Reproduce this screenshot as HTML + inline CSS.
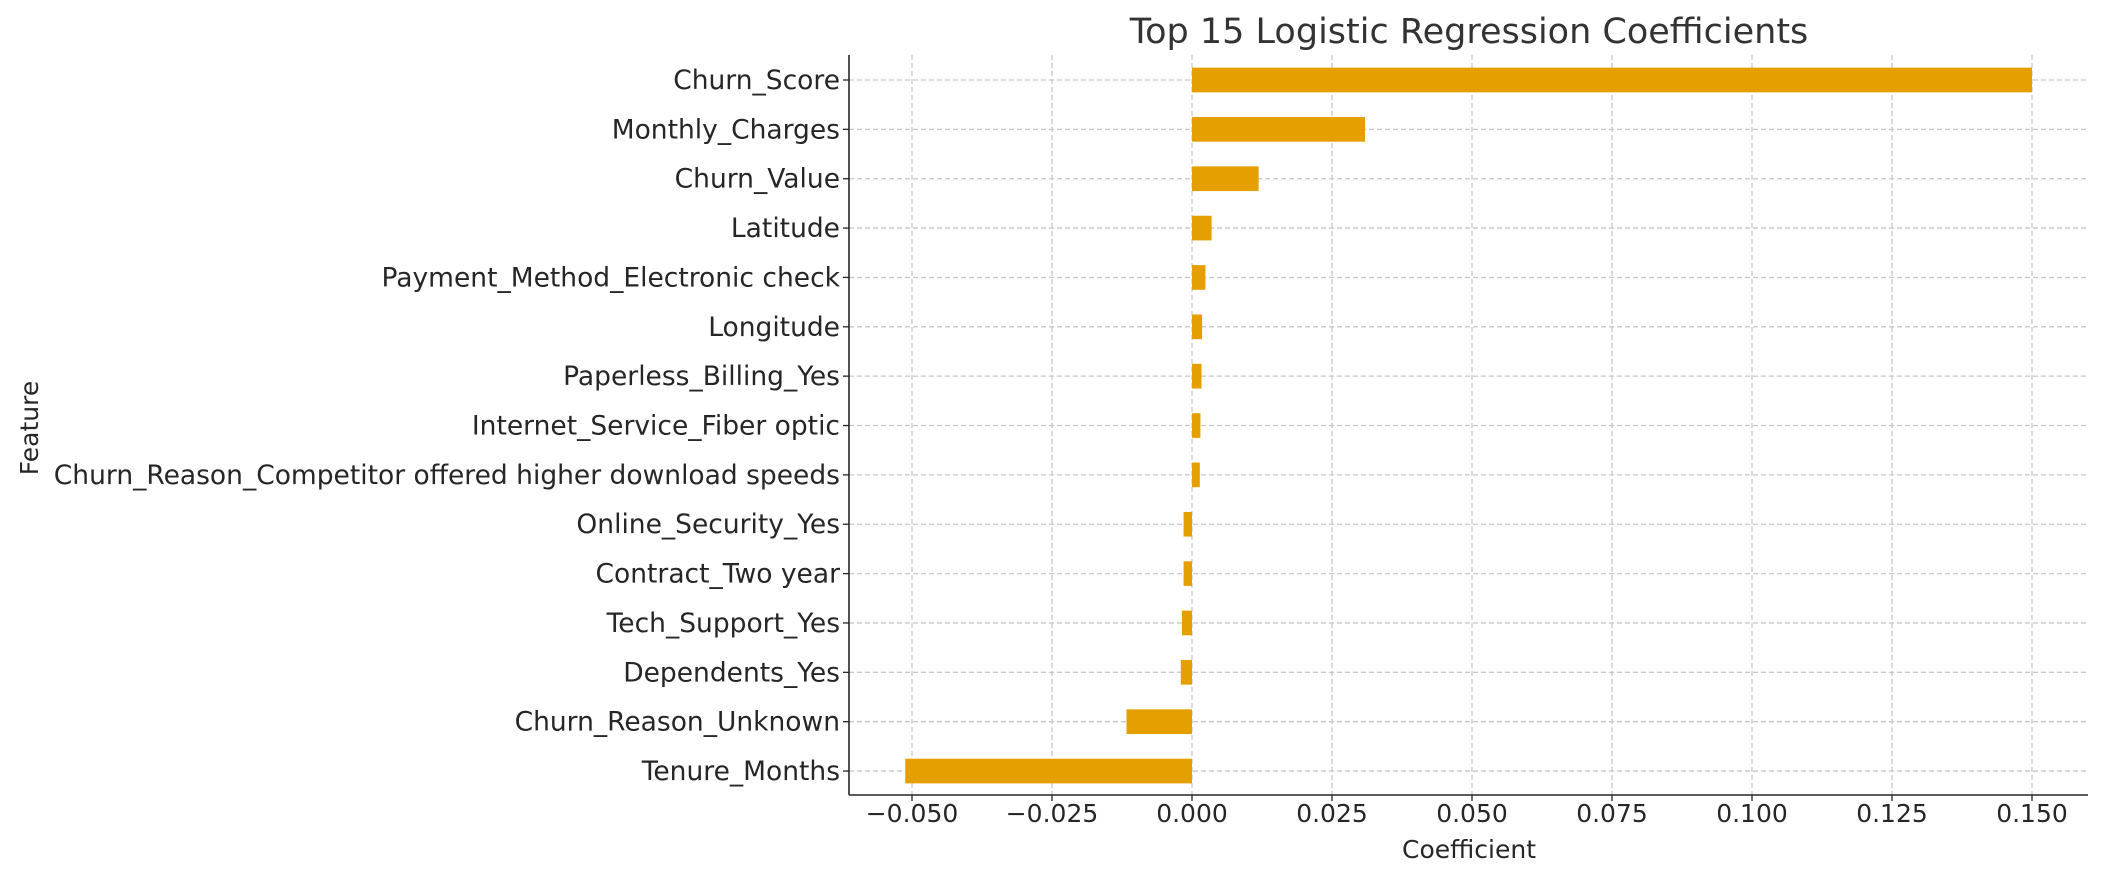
<!DOCTYPE html>
<html><head><meta charset="utf-8"><style>
body{margin:0;background:#fff;}
svg text{font-family:"DejaVu Sans","Liberation Sans",sans-serif;fill:#262626;}
</style></head><body>
<svg id="chart" width="2104" height="880" xmlns="http://www.w3.org/2000/svg">
<text x="1469" y="43" font-size="35" text-anchor="middle" style="fill:#333">Top 15 Logistic Regression Coefficients</text>
<g id="grid"></g><g id="bars"></g><g id="axes"></g>
<text x="1469" y="858" font-size="25" text-anchor="middle">Coefficient</text>
<text transform="translate(38,428) rotate(-90)" font-size="25" text-anchor="middle">Feature</text>
</svg>
<script>
const categories=["Churn_Score","Monthly_Charges","Churn_Value","Latitude","Payment_Method_Electronic check","Longitude","Paperless_Billing_Yes","Internet_Service_Fiber optic","Churn_Reason_Competitor offered higher download speeds","Online_Security_Yes","Contract_Two year","Tech_Support_Yes","Dependents_Yes","Churn_Reason_Unknown","Tenure_Months"];
const values=[0.150,0.0309,0.0119,0.0035,0.0024,0.0018,0.0017,0.0015,0.0014,-0.0015,-0.0015,-0.0018,-0.0020,-0.0117,-0.0512];
const xTicks=[-0.050,-0.025,0,0.025,0.050,0.075,0.100,0.125,0.150];
const xTickLabels=["\u22120.050","\u22120.025","0.000","0.025","0.050","0.075","0.100","0.125","0.150"];
const NS="http://www.w3.org/2000/svg";
const L=849,R=2088,T=55,B=795;
const x=v=>1192+(v/0.025)*140;
const y=i=>80+i*49.36;
function mk(tag,attrs,parent,txt){const e=document.createElementNS(NS,tag);for(const k in attrs)e.setAttribute(k,attrs[k]);if(txt!==undefined)e.textContent=txt;parent.appendChild(e);return e;}
const grid=document.getElementById('grid'),bars=document.getElementById('bars'),axes=document.getElementById('axes');
xTicks.forEach((t,i)=>{
  const g=mk('line',{x1:x(t),x2:x(t),y1:T,y2:B,stroke:'#c8c8c8','stroke-width':1.3,'stroke-dasharray':'5,3'},grid);
  
  
  const tk=mk('line',{x1:x(t),x2:x(t),y1:B,y2:B+6,stroke:'#262626','stroke-width':1.3},axes);
  
  
  const lb=mk('text',{x:x(t),y:822,'font-size':25,'text-anchor':'middle'},axes,xTickLabels[i]);
  
  
});
categories.forEach((c,i)=>{
  const g=mk('line',{x1:L,x2:R,y1:y(i),y2:y(i),stroke:'#c8c8c8','stroke-width':1.3,'stroke-dasharray':'5,3'},grid);
  
  
  const v=values[i],x0=Math.min(x(0),x(v)),w=Math.abs(x(v)-x(0));
  const b=mk('rect',{x:x0,y:y(i)-12.34,width:w,height:24.68,fill:'#E69F00'},bars);
  
  
  const tk=mk('line',{x1:L-6,x2:L,y1:y(i),y2:y(i),stroke:'#262626','stroke-width':1.3},axes);
  
  
  const lb=mk('text',{x:840,y:y(i)+9,'font-size':26.5,'text-anchor':'end'},axes,c);
  
  
});
const sl=mk('line',{x1:L,x2:L,y1:T,y2:B,stroke:'#262626','stroke-width':1.6},axes);


const sb=mk('line',{x1:L,x2:R,y1:B,y2:B,stroke:'#262626','stroke-width':1.6},axes);


</script>
</body></html>
